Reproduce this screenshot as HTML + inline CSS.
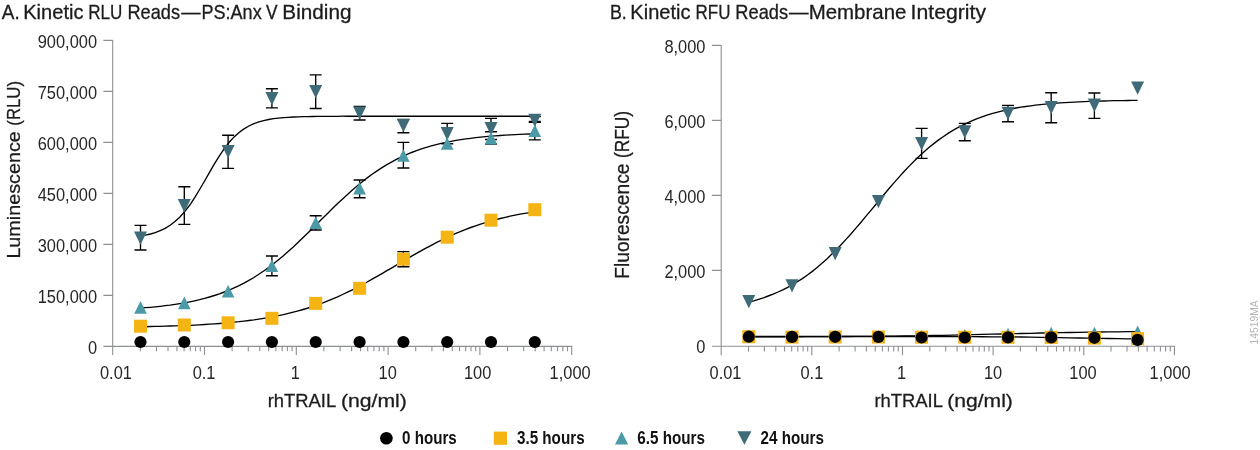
<!DOCTYPE html><html><head><meta charset="utf-8"><title>Kinetic reads</title><style>html,body{margin:0;padding:0;background:#fff}svg{display:block}text{font-family:"Liberation Sans",sans-serif;font-kerning:none}</style></head><body>
<svg width="1260" height="450" viewBox="0 0 1260 450">
<rect width="1260" height="450" fill="#fff"/>
<path d="M112.7 39.9V354.9M103.4 346.4H572.3M103.4 40.4H112.7M103.4 91.4H112.7M103.4 142.4H112.7M103.4 193.4H112.7M103.4 244.4H112.7M103.4 295.4H112.7M140.3 346.4V351.2M156.5 346.4V351.2M168.0 346.4V351.2M176.9 346.4V351.2M184.1 346.4V351.2M190.3 346.4V351.2M195.6 346.4V351.2M200.3 346.4V351.2M204.5 346.4V354.9M232.1 346.4V351.2M248.3 346.4V351.2M259.8 346.4V351.2M268.7 346.4V351.2M275.9 346.4V351.2M282.1 346.4V351.2M287.4 346.4V351.2M292.1 346.4V351.2M296.3 346.4V354.9M323.9 346.4V351.2M340.1 346.4V351.2M351.6 346.4V351.2M360.5 346.4V351.2M367.7 346.4V351.2M373.9 346.4V351.2M379.2 346.4V351.2M383.9 346.4V351.2M388.1 346.4V354.9M415.7 346.4V351.2M431.9 346.4V351.2M443.4 346.4V351.2M452.3 346.4V351.2M459.5 346.4V351.2M465.7 346.4V351.2M471.0 346.4V351.2M475.7 346.4V351.2M479.9 346.4V354.9M507.5 346.4V351.2M523.7 346.4V351.2M535.2 346.4V351.2M544.1 346.4V351.2M551.3 346.4V351.2M557.5 346.4V351.2M562.8 346.4V351.2M567.5 346.4V351.2M571.7 346.4V354.9" stroke="#8d8f92" stroke-width="1.1" fill="none"/>
<polyline fill="none" stroke="#000" stroke-width="1.35" points="140.5,236.0 145.4,235.1 150.4,234.0 155.3,232.6 160.2,230.7 165.1,228.3 170.1,225.3 175.0,221.6 179.9,217.0 184.9,211.4 189.8,205.0 194.7,197.6 199.6,189.5 204.6,181.0 209.5,172.3 214.4,163.8 219.4,155.8 224.3,148.6 229.2,142.3 234.1,136.9 239.1,132.5 244.0,128.9 248.9,126.0 253.9,123.7 258.8,121.9 263.7,120.6 268.6,119.5 273.6,118.7 278.5,118.1 283.4,117.6 288.4,117.3 293.3,117.0 298.2,116.8 303.1,116.7 308.1,116.6 313.0,116.5 317.9,116.4 322.9,116.3 327.8,116.3 332.7,116.3 337.6,116.3 342.6,116.2 347.5,116.2 352.4,116.2 357.4,116.2 362.3,116.2 367.2,116.2 372.1,116.2 377.1,116.2 382.0,116.2 386.9,116.2 391.9,116.2 396.8,116.2 401.7,116.2 406.6,116.2 411.6,116.2 416.5,116.2 421.4,116.2 426.4,116.2 431.3,116.2 436.2,116.2 441.1,116.2 446.1,116.2 451.0,116.2 455.9,116.2 460.9,116.2 465.8,116.2 470.7,116.2 475.6,116.2 480.6,116.2 485.5,116.2 490.4,116.2 495.4,116.2 500.3,116.2 505.2,116.2 510.1,116.2 515.1,116.2 520.0,116.2 524.9,116.2 529.9,116.2 534.8,116.2"/>
<polyline fill="none" stroke="#000" stroke-width="1.35" points="140.5,308.0 145.4,307.7 150.4,307.3 155.3,306.8 160.2,306.3 165.1,305.7 170.1,305.1 175.0,304.4 179.9,303.6 184.9,302.8 189.8,301.8 194.7,300.8 199.6,299.7 204.6,298.4 209.5,297.0 214.4,295.5 219.4,293.9 224.3,292.0 229.2,290.1 234.1,287.9 239.1,285.6 244.0,283.1 248.9,280.4 253.9,277.5 258.8,274.3 263.7,271.0 268.6,267.5 273.6,263.7 278.5,259.8 283.4,255.7 288.4,251.3 293.3,246.9 298.2,242.3 303.1,237.6 308.1,232.8 313.0,227.9 317.9,223.0 322.9,218.0 327.8,213.2 332.7,208.3 337.6,203.5 342.6,198.9 347.5,194.4 352.4,190.0 357.4,185.8 362.3,181.7 367.2,177.9 372.1,174.3 377.1,170.9 382.0,167.6 386.9,164.6 391.9,161.8 396.8,159.2 401.7,156.8 406.6,154.6 411.6,152.5 416.5,150.6 421.4,148.9 426.4,147.3 431.3,145.9 436.2,144.6 441.1,143.4 446.1,142.3 451.0,141.3 455.9,140.4 460.9,139.6 465.8,138.9 470.7,138.3 475.6,137.7 480.6,137.1 485.5,136.7 490.4,136.2 495.4,135.8 500.3,135.5 505.2,135.2 510.1,134.9 515.1,134.6 520.0,134.4 524.9,134.2 529.9,134.0 534.8,133.8"/>
<polyline fill="none" stroke="#000" stroke-width="1.35" points="140.5,326.7 145.4,326.7 150.4,326.5 155.3,326.4 160.2,326.3 165.1,326.2 170.1,326.0 175.0,325.9 179.9,325.7 184.9,325.5 189.8,325.3 194.7,325.1 199.6,324.8 204.6,324.5 209.5,324.2 214.4,323.9 219.4,323.5 224.3,323.1 229.2,322.7 234.1,322.2 239.1,321.7 244.0,321.1 248.9,320.5 253.9,319.9 258.8,319.2 263.7,318.4 268.6,317.5 273.6,316.6 278.5,315.6 283.4,314.6 288.4,313.4 293.3,312.2 298.2,310.9 303.1,309.5 308.1,308.0 313.0,306.4 317.9,304.6 322.9,302.8 327.8,300.9 332.7,298.9 337.6,296.8 342.6,294.5 347.5,292.2 352.4,289.8 357.4,287.2 362.3,284.6 367.2,282.0 372.1,279.2 377.1,276.4 382.0,273.6 386.9,270.7 391.9,267.8 396.8,264.9 401.7,262.0 406.6,259.1 411.6,256.2 416.5,253.4 421.4,250.6 426.4,247.9 431.3,245.3 436.2,242.7 441.1,240.3 446.1,237.9 451.0,235.6 455.9,233.4 460.9,231.4 465.8,229.4 470.7,227.5 475.6,225.8 480.6,224.1 485.5,222.6 490.4,221.1 495.4,219.8 500.3,218.5 505.2,217.3 510.1,216.2 515.1,215.2 520.0,214.2 524.9,213.4 529.9,212.6 534.8,211.8"/>
<path d="M140.5 225.3V250.0M134.5 225.3H146.5M134.5 250.0H146.5" stroke="#000" stroke-width="1.35" fill="none"/>
<path d="M184.3 186.7V224.3M178.3 186.7H190.3M178.3 224.3H190.3" stroke="#000" stroke-width="1.35" fill="none"/>
<path d="M228.1 135.2V168.4M222.1 135.2H234.1M222.1 168.4H234.1" stroke="#000" stroke-width="1.35" fill="none"/>
<path d="M271.9 88.7V107.8M265.9 88.7H277.9M265.9 107.8H277.9" stroke="#000" stroke-width="1.35" fill="none"/>
<path d="M315.7 74.8V108.5M309.7 74.8H321.7M309.7 108.5H321.7" stroke="#000" stroke-width="1.35" fill="none"/>
<path d="M359.6 106.3V120.0M353.6 106.3H365.6M353.6 120.0H365.6" stroke="#000" stroke-width="1.35" fill="none"/>
<path d="M403.4 119.5V132.7M397.4 119.5H409.4M397.4 132.7H409.4" stroke="#000" stroke-width="1.35" fill="none"/>
<path d="M447.2 123.3V143.7M441.2 123.3H453.2M441.2 143.7H453.2" stroke="#000" stroke-width="1.35" fill="none"/>
<path d="M491.0 118.3V139.5M485.0 118.3H497.0M485.0 139.5H497.0" stroke="#000" stroke-width="1.35" fill="none"/>
<path d="M534.8 116.5V122.4M528.8 116.5H540.8M528.8 122.4H540.8" stroke="#000" stroke-width="1.35" fill="none"/>
<path d="M271.9 256.0V275.7M265.9 256.0H277.9M265.9 275.7H277.9" stroke="#000" stroke-width="1.35" fill="none"/>
<path d="M315.7 215.7V230.0M309.7 215.7H321.7M309.7 230.0H321.7" stroke="#000" stroke-width="1.35" fill="none"/>
<path d="M359.6 180.0V197.7M353.6 180.0H365.6M353.6 197.7H365.6" stroke="#000" stroke-width="1.35" fill="none"/>
<path d="M403.4 142.3V168.0M397.4 142.3H409.4M397.4 168.0H409.4" stroke="#000" stroke-width="1.35" fill="none"/>
<path d="M491.0 131.7V144.0M485.0 131.7H497.0M485.0 144.0H497.0" stroke="#000" stroke-width="1.35" fill="none"/>
<path d="M534.8 121.5V139.8M528.8 121.5H540.8M528.8 139.8H540.8" stroke="#000" stroke-width="1.35" fill="none"/>
<path d="M403.4 251.6V266.7M397.4 251.6H409.4M397.4 266.7H409.4" stroke="#000" stroke-width="1.35" fill="none"/>
<circle cx="140.5" cy="342.0" r="6.1" fill="#000"/>
<circle cx="184.3" cy="342.0" r="6.1" fill="#000"/>
<circle cx="228.1" cy="342.0" r="6.1" fill="#000"/>
<circle cx="271.9" cy="342.0" r="6.1" fill="#000"/>
<circle cx="315.7" cy="342.0" r="6.1" fill="#000"/>
<circle cx="359.6" cy="342.0" r="6.1" fill="#000"/>
<circle cx="403.4" cy="342.0" r="6.1" fill="#000"/>
<circle cx="447.2" cy="342.0" r="6.1" fill="#000"/>
<circle cx="491.0" cy="342.0" r="6.1" fill="#000"/>
<circle cx="534.8" cy="342.0" r="6.1" fill="#000"/>
<rect x="134.0" y="319.7" width="13.0" height="13.0" fill="#f4b414"/>
<rect x="177.8" y="318.5" width="13.0" height="13.0" fill="#f4b414"/>
<rect x="221.6" y="316.3" width="13.0" height="13.0" fill="#f4b414"/>
<rect x="265.4" y="311.8" width="13.0" height="13.0" fill="#f4b414"/>
<rect x="309.2" y="296.9" width="13.0" height="13.0" fill="#f4b414"/>
<rect x="353.1" y="281.8" width="13.0" height="13.0" fill="#f4b414"/>
<rect x="396.9" y="252.7" width="13.0" height="13.0" fill="#f4b414"/>
<rect x="440.7" y="230.7" width="13.0" height="13.0" fill="#f4b414"/>
<rect x="484.5" y="213.7" width="13.0" height="13.0" fill="#f4b414"/>
<rect x="528.3" y="203.2" width="13.0" height="13.0" fill="#f4b414"/>
<path d="M134.0 231.4H147.0L140.5 244.7Z" fill="#3f6b78"/>
<path d="M177.8 199.1H190.8L184.3 212.4Z" fill="#3f6b78"/>
<path d="M221.6 144.9H234.6L228.1 158.2Z" fill="#3f6b78"/>
<path d="M265.4 91.9H278.4L271.9 105.2Z" fill="#3f6b78"/>
<path d="M309.2 84.9H322.2L315.7 98.2Z" fill="#3f6b78"/>
<path d="M353.1 106.4H366.1L359.6 119.7Z" fill="#3f6b78"/>
<path d="M396.9 118.9H409.9L403.4 132.2Z" fill="#3f6b78"/>
<path d="M440.7 127.1H453.7L447.2 140.4Z" fill="#3f6b78"/>
<path d="M484.5 122.1H497.5L491.0 135.4Z" fill="#3f6b78"/>
<path d="M528.3 113.7H541.3L534.8 127.0Z" fill="#3f6b78"/>
<path d="M134.2 313.7H146.8L140.5 301.1Z" fill="#4c9aa7"/>
<path d="M178.0 309.2H190.6L184.3 296.6Z" fill="#4c9aa7"/>
<path d="M221.8 297.6H234.4L228.1 285.0Z" fill="#4c9aa7"/>
<path d="M265.6 272.1H278.2L271.9 259.5Z" fill="#4c9aa7"/>
<path d="M309.4 229.1H322.0L315.7 216.5Z" fill="#4c9aa7"/>
<path d="M353.2 194.6H365.9L359.6 182.0Z" fill="#4c9aa7"/>
<path d="M397.1 161.8H409.7L403.4 149.2Z" fill="#4c9aa7"/>
<path d="M440.9 149.8H453.5L447.2 137.2Z" fill="#4c9aa7"/>
<path d="M484.7 144.4H497.3L491.0 131.8Z" fill="#4c9aa7"/>
<path d="M528.5 137.1H541.1L534.8 124.5Z" fill="#4c9aa7"/>
<path d="M721.2 44.9V355.3M711.9000000000001 346.3H1175.0M711.9000000000001 45.4H721.2M711.9000000000001 120.4H721.2M711.9000000000001 195.4H721.2M711.9000000000001 270.4H721.2M748.5 346.3V351.40000000000003M764.4 346.3V351.40000000000003M775.8 346.3V351.40000000000003M784.6 346.3V351.40000000000003M791.7 346.3V351.40000000000003M797.8 346.3V351.40000000000003M803.1 346.3V351.40000000000003M807.7 346.3V351.40000000000003M811.8 346.3V355.3M839.1 346.3V351.40000000000003M855.1 346.3V351.40000000000003M866.4 346.3V351.40000000000003M875.2 346.3V351.40000000000003M882.4 346.3V351.40000000000003M888.4 346.3V351.40000000000003M893.7 346.3V351.40000000000003M898.3 346.3V351.40000000000003M902.5 346.3V355.3M929.8 346.3V351.40000000000003M945.7 346.3V351.40000000000003M957.1 346.3V351.40000000000003M965.8 346.3V351.40000000000003M973.0 346.3V351.40000000000003M979.1 346.3V351.40000000000003M984.3 346.3V351.40000000000003M989.0 346.3V351.40000000000003M993.1 346.3V355.3M1020.4 346.3V351.40000000000003M1036.4 346.3V351.40000000000003M1047.7 346.3V351.40000000000003M1056.5 346.3V351.40000000000003M1063.7 346.3V351.40000000000003M1069.7 346.3V351.40000000000003M1075.0 346.3V351.40000000000003M1079.6 346.3V351.40000000000003M1083.8 346.3V355.3M1111.0 346.3V351.40000000000003M1127.0 346.3V351.40000000000003M1138.3 346.3V351.40000000000003M1147.1 346.3V351.40000000000003M1154.3 346.3V351.40000000000003M1160.4 346.3V351.40000000000003M1165.6 346.3V351.40000000000003M1170.3 346.3V351.40000000000003M1174.4 346.3V355.3" stroke="#8d8f92" stroke-width="1.1" fill="none"/>
<polyline fill="none" stroke="#000" stroke-width="1.35" points="748.8,302.1 753.7,300.8 758.5,299.3 763.4,297.8 768.2,296.0 773.1,294.1 778.0,292.0 782.8,289.8 787.7,287.3 792.5,284.6 797.4,281.7 802.3,278.6 807.1,275.2 812.0,271.6 816.8,267.7 821.7,263.6 826.6,259.2 831.4,254.6 836.3,249.8 841.1,244.7 846.0,239.4 850.9,234.0 855.7,228.4 860.6,222.7 865.4,216.9 870.3,211.1 875.2,205.2 880.0,199.3 884.9,193.5 889.7,187.7 894.6,182.1 899.5,176.6 904.3,171.3 909.2,166.1 914.0,161.2 918.9,156.5 923.8,152.1 928.6,147.8 933.5,143.9 938.3,140.1 943.2,136.7 948.1,133.4 952.9,130.4 957.8,127.7 962.6,125.1 967.5,122.8 972.4,120.6 977.2,118.6 982.1,116.8 986.9,115.2 991.8,113.7 996.7,112.3 1001.5,111.1 1006.4,110.0 1011.2,109.0 1016.1,108.0 1021.0,107.2 1025.8,106.5 1030.7,105.8 1035.5,105.2 1040.4,104.6 1045.3,104.1 1050.1,103.7 1055.0,103.3 1059.8,102.9 1064.7,102.6 1069.6,102.3 1074.4,102.1 1079.3,101.8 1084.1,101.6 1089.0,101.4 1093.9,101.3 1098.7,101.1 1103.6,101.0 1108.4,100.9 1113.3,100.7 1118.2,100.6 1123.0,100.6 1127.9,100.5 1132.7,100.4 1137.6,100.3"/>
<polyline fill="none" stroke="#000" stroke-width="1.35" points="748.8,336.7 758.5,336.7 768.2,336.7 778.0,336.7 787.7,336.7 797.4,336.7 807.1,336.6 816.8,336.6 826.6,336.6 836.3,336.5 846.0,336.5 855.7,336.4 865.4,336.3 875.2,336.3 884.9,336.2 894.6,336.1 904.3,335.9 914.0,335.8 923.8,335.7 933.5,335.5 943.2,335.3 952.9,335.1 962.6,334.9 972.4,334.7 982.1,334.4 991.8,334.2 1001.5,334.0 1011.2,333.7 1021.0,333.5 1030.7,333.3 1040.4,333.0 1050.1,332.8 1059.8,332.6 1069.6,332.5 1079.3,332.3 1089.0,332.2 1098.7,332.0 1108.4,331.9 1118.2,331.8 1127.9,331.7 1137.6,331.6"/>
<polyline fill="none" stroke="#000" stroke-width="1.35" points="748.8,336.5 758.5,336.5 768.2,336.5 778.0,336.5 787.7,336.5 797.4,336.5 807.1,336.5 816.8,336.5 826.6,336.5 836.3,336.5 846.0,336.5 855.7,336.5 865.4,336.5 875.2,336.5 884.9,336.5 894.6,336.5 904.3,336.5 914.0,336.5 923.8,336.6 933.5,336.6 943.2,336.6 952.9,336.6 962.6,336.6 972.4,336.7 982.1,336.7 991.8,336.8 1001.5,336.9 1011.2,336.9 1021.0,337.0 1030.7,337.2 1040.4,337.3 1050.1,337.5 1059.8,337.6 1069.6,337.8 1079.3,338.0 1089.0,338.2 1098.7,338.4 1108.4,338.5 1118.2,338.7 1127.9,338.8 1137.6,338.9"/>
<path d="M921.6 128.3V158.3M915.6 128.3H927.6M915.6 158.3H927.6" stroke="#000" stroke-width="1.35" fill="none"/>
<path d="M964.8 123.3V140.7M958.8 123.3H970.8M958.8 140.7H970.8" stroke="#000" stroke-width="1.35" fill="none"/>
<path d="M1008.0 105.3V121.7M1002.0 105.3H1014.0M1002.0 121.7H1014.0" stroke="#000" stroke-width="1.35" fill="none"/>
<path d="M1051.2 92.7V122.7M1045.2 92.7H1057.2M1045.2 122.7H1057.2" stroke="#000" stroke-width="1.35" fill="none"/>
<path d="M1094.4 93.0V118.3M1088.4 93.0H1100.4M1088.4 118.3H1100.4" stroke="#000" stroke-width="1.35" fill="none"/>
<path d="M742.5 342.9H755.1L748.8 330.3Z" fill="#4c9aa7"/>
<path d="M785.7 342.8H798.3L792.0 330.2Z" fill="#4c9aa7"/>
<path d="M828.9 342.7H841.5L835.2 330.1Z" fill="#4c9aa7"/>
<path d="M872.1 342.6H884.7L878.4 330.0Z" fill="#4c9aa7"/>
<path d="M915.3 342.5H927.9L921.6 329.9Z" fill="#4c9aa7"/>
<path d="M958.5 341.5H971.1L964.8 328.9Z" fill="#4c9aa7"/>
<path d="M1001.7 340.4H1014.3L1008.0 327.8Z" fill="#4c9aa7"/>
<path d="M1044.9 339.3H1057.5L1051.2 326.7Z" fill="#4c9aa7"/>
<path d="M1088.1 339.3H1100.7L1094.4 326.7Z" fill="#4c9aa7"/>
<path d="M1131.3 338.2H1143.9L1137.6 325.6Z" fill="#4c9aa7"/>
<rect x="742.3" y="330.2" width="13.0" height="13.0" fill="#f4b414"/>
<rect x="785.5" y="330.6" width="13.0" height="13.0" fill="#f4b414"/>
<rect x="828.7" y="330.5" width="13.0" height="13.0" fill="#f4b414"/>
<rect x="871.9" y="330.5" width="13.0" height="13.0" fill="#f4b414"/>
<rect x="915.1" y="330.7" width="13.0" height="13.0" fill="#f4b414"/>
<rect x="958.3" y="330.7" width="13.0" height="13.0" fill="#f4b414"/>
<rect x="1001.5" y="330.8" width="13.0" height="13.0" fill="#f4b414"/>
<rect x="1044.7" y="330.9" width="13.0" height="13.0" fill="#f4b414"/>
<rect x="1087.9" y="331.6" width="13.0" height="13.0" fill="#f4b414"/>
<rect x="1131.1" y="332.1" width="13.0" height="13.0" fill="#f4b414"/>
<circle cx="748.8" cy="336.7" r="6.1" fill="#000"/>
<circle cx="792.0" cy="336.9" r="6.1" fill="#000"/>
<circle cx="835.2" cy="336.8" r="6.1" fill="#000"/>
<circle cx="878.4" cy="336.9" r="6.1" fill="#000"/>
<circle cx="921.6" cy="337.5" r="6.1" fill="#000"/>
<circle cx="964.8" cy="337.5" r="6.1" fill="#000"/>
<circle cx="1008.0" cy="337.4" r="6.1" fill="#000"/>
<circle cx="1051.2" cy="337.4" r="6.1" fill="#000"/>
<circle cx="1094.4" cy="337.8" r="6.1" fill="#000"/>
<circle cx="1137.6" cy="339.9" r="6.1" fill="#000"/>
<path d="M742.3 294.9H755.3L748.8 308.2Z" fill="#3f6b78"/>
<path d="M785.5 279.3H798.5L792.0 292.6Z" fill="#3f6b78"/>
<path d="M828.7 247.0H841.7L835.2 260.3Z" fill="#3f6b78"/>
<path d="M871.9 194.9H884.9L878.4 208.2Z" fill="#3f6b78"/>
<path d="M915.1 136.9H928.1L921.6 150.2Z" fill="#3f6b78"/>
<path d="M958.3 125.3H971.3L964.8 138.6Z" fill="#3f6b78"/>
<path d="M1001.5 106.8H1014.5L1008.0 120.1Z" fill="#3f6b78"/>
<path d="M1044.7 100.9H1057.7L1051.2 114.2Z" fill="#3f6b78"/>
<path d="M1087.9 98.6H1100.9L1094.4 111.9Z" fill="#3f6b78"/>
<path d="M1131.1 81.4H1144.1L1137.6 94.7Z" fill="#3f6b78"/>
<text transform="translate(1.86 18.55) scale(0.9453 0.9739)" font-size="20" fill="#1c1c1c" stroke="#1c1c1c" stroke-width="0.3">A.</text>
<text transform="translate(23.15 18.55) scale(1.0059 0.9739)" font-size="20" fill="#1c1c1c" stroke="#1c1c1c" stroke-width="0.3">Kinetic</text>
<text transform="translate(88.20 18.55) scale(0.8527 0.9739)" font-size="20" fill="#1c1c1c" stroke="#1c1c1c" stroke-width="0.3">RLU</text>
<text transform="translate(127.41 18.55) scale(0.9107 0.9739)" font-size="20" fill="#1c1c1c" stroke="#1c1c1c" stroke-width="0.3">Reads</text>
<text transform="translate(181.20 18.55) scale(0.9650 0.9739)" font-size="20" fill="#1c1c1c" stroke="#1c1c1c" stroke-width="0.3">—</text>
<text transform="translate(201.52 18.55) scale(0.9022 0.9739)" font-size="20" fill="#1c1c1c" stroke="#1c1c1c" stroke-width="0.3">PS:Anx</text>
<text transform="translate(266.12 18.55) scale(0.8660 0.9739)" font-size="20" fill="#1c1c1c" stroke="#1c1c1c" stroke-width="0.3">V</text>
<text transform="translate(282.30 18.55) scale(1.0378 0.9739)" font-size="20" fill="#1c1c1c" stroke="#1c1c1c" stroke-width="0.3">Binding</text>
<text transform="translate(609.94 18.55) scale(0.8879 0.9739)" font-size="20" fill="#1c1c1c" stroke="#1c1c1c" stroke-width="0.3">B.</text>
<text transform="translate(630.36 18.55) scale(1.0024 0.9739)" font-size="20" fill="#1c1c1c" stroke="#1c1c1c" stroke-width="0.3">Kinetic</text>
<text transform="translate(695.51 18.55) scale(0.8492 0.9739)" font-size="20" fill="#1c1c1c" stroke="#1c1c1c" stroke-width="0.3">RFU</text>
<text transform="translate(735.30 18.55) scale(0.9144 0.9739)" font-size="20" fill="#1c1c1c" stroke="#1c1c1c" stroke-width="0.3">Reads</text>
<text transform="translate(789.00 18.55) scale(0.9800 0.9739)" font-size="20" fill="#1c1c1c" stroke="#1c1c1c" stroke-width="0.3">—</text>
<text transform="translate(808.72 18.55) scale(1.0219 0.9739)" font-size="20" fill="#1c1c1c" stroke="#1c1c1c" stroke-width="0.3">Membrane</text>
<text transform="translate(910.54 18.55) scale(1.0613 0.9739)" font-size="20" fill="#1c1c1c" stroke="#1c1c1c" stroke-width="0.3">Integrity</text>
<text transform="translate(37.73 47.60) scale(0.8204 0.9521)" font-size="20" fill="#262626">900,000</text>
<text transform="translate(37.73 98.60) scale(0.8204 0.9521)" font-size="20" fill="#262626">750,000</text>
<text transform="translate(37.73 149.60) scale(0.8204 0.9521)" font-size="20" fill="#262626">600,000</text>
<text transform="translate(37.73 200.60) scale(0.8204 0.9521)" font-size="20" fill="#262626">450,000</text>
<text transform="translate(37.73 251.60) scale(0.8204 0.9521)" font-size="20" fill="#262626">300,000</text>
<text transform="translate(37.73 302.60) scale(0.8204 0.9521)" font-size="20" fill="#262626">150,000</text>
<text transform="translate(87.92 353.60) scale(0.8204 0.9521)" font-size="20" fill="#262626">0</text>
<text transform="translate(664.38 52.50) scale(0.8204 0.9521)" font-size="20" fill="#262626">8,000</text>
<text transform="translate(664.38 127.50) scale(0.8204 0.9521)" font-size="20" fill="#262626">6,000</text>
<text transform="translate(664.38 202.50) scale(0.8204 0.9521)" font-size="20" fill="#262626">4,000</text>
<text transform="translate(664.38 277.50) scale(0.8204 0.9521)" font-size="20" fill="#262626">2,000</text>
<text transform="translate(696.32 352.50) scale(0.8204 0.9521)" font-size="20" fill="#262626">0</text>
<text transform="translate(99.96 378.80) scale(0.8204 0.9448)" font-size="20" fill="#262626">0.01</text>
<text transform="translate(192.66 378.80) scale(0.8204 0.9448)" font-size="20" fill="#262626">0.1</text>
<text transform="translate(290.68 378.80) scale(0.8204 0.9448)" font-size="20" fill="#262626">1</text>
<text transform="translate(378.59 378.80) scale(0.8204 0.9448)" font-size="20" fill="#262626">10</text>
<text transform="translate(463.97 378.80) scale(0.8204 0.9448)" font-size="20" fill="#262626">100</text>
<text transform="translate(549.58 378.80) scale(0.8204 0.9448)" font-size="20" fill="#262626">1,000</text>
<text transform="translate(709.56 378.80) scale(0.8204 0.9448)" font-size="20" fill="#262626">0.01</text>
<text transform="translate(800.46 378.80) scale(0.8204 0.9448)" font-size="20" fill="#262626">0.1</text>
<text transform="translate(896.88 378.80) scale(0.8204 0.9448)" font-size="20" fill="#262626">1</text>
<text transform="translate(983.99 378.80) scale(0.8204 0.9448)" font-size="20" fill="#262626">10</text>
<text transform="translate(1069.27 378.80) scale(0.8204 0.9448)" font-size="20" fill="#262626">100</text>
<text transform="translate(1149.58 378.80) scale(0.8204 0.9448)" font-size="20" fill="#262626">1,000</text>
<text transform="translate(267.68 406.90) scale(0.9204 0.9157)" font-size="20" fill="#1c1c1c" stroke="#1c1c1c" stroke-width="0.3">rhTRAIL</text>
<text transform="translate(340.88 406.90) scale(1.0612 0.9157)" font-size="20" fill="#1c1c1c" stroke="#1c1c1c" stroke-width="0.3">(ng/ml)</text>
<text transform="translate(874.38 406.90) scale(0.9204 0.9157)" font-size="20" fill="#1c1c1c" stroke="#1c1c1c" stroke-width="0.3">rhTRAIL</text>
<text transform="translate(947.19 406.90) scale(1.0561 0.9157)" font-size="20" fill="#1c1c1c" stroke="#1c1c1c" stroke-width="0.3">(ng/ml)</text>
<text transform="translate(20.30 258.62) rotate(-90) scale(0.9886 0.9521)" font-size="20" fill="#1c1c1c" stroke="#1c1c1c" stroke-width="0.3">Luminescence</text>
<text transform="translate(20.30 125.64) rotate(-90) scale(0.8378 0.9521)" font-size="20" fill="#1c1c1c" stroke="#1c1c1c" stroke-width="0.3">(RLU)</text>
<text transform="translate(628.70 278.77) rotate(-90) scale(0.9598 0.9739)" font-size="20" fill="#1c1c1c" stroke="#1c1c1c" stroke-width="0.3">Fluorescence</text>
<text transform="translate(628.70 158.07) rotate(-90) scale(0.8663 0.9739)" font-size="20" fill="#1c1c1c" stroke="#1c1c1c" stroke-width="0.3">(RFU)</text>
<text transform="translate(1258.40 344.38) rotate(-90) scale(0.5140 0.5523)" font-size="20" fill="#b5b5b5">14519MA</text>
<circle cx="386.4" cy="438.3" r="6.3" fill="#000"/>
<rect x="493.8" y="431.6" width="13.2" height="13.2" fill="#f4b414"/>
<path d="M615.0 444.6H628.2L621.6 431.6Z" fill="#4c9aa7"/>
<path d="M737.4 431.3H751.4L744.4 444.8Z" fill="#3f6b78"/>
<text transform="translate(402.10 443.90) scale(0.7575 0.8866)" font-size="20" fill="#111" font-weight="bold">0 hours</text>
<text transform="translate(516.95 443.90) scale(0.7611 0.8866)" font-size="20" fill="#111" font-weight="bold">3.5 hours</text>
<text transform="translate(637.24 443.90) scale(0.7623 0.8866)" font-size="20" fill="#111" font-weight="bold">6.5 hours</text>
<text transform="translate(760.57 443.90) scale(0.7600 0.8866)" font-size="20" fill="#111" font-weight="bold">24 hours</text>
</svg></body></html>
